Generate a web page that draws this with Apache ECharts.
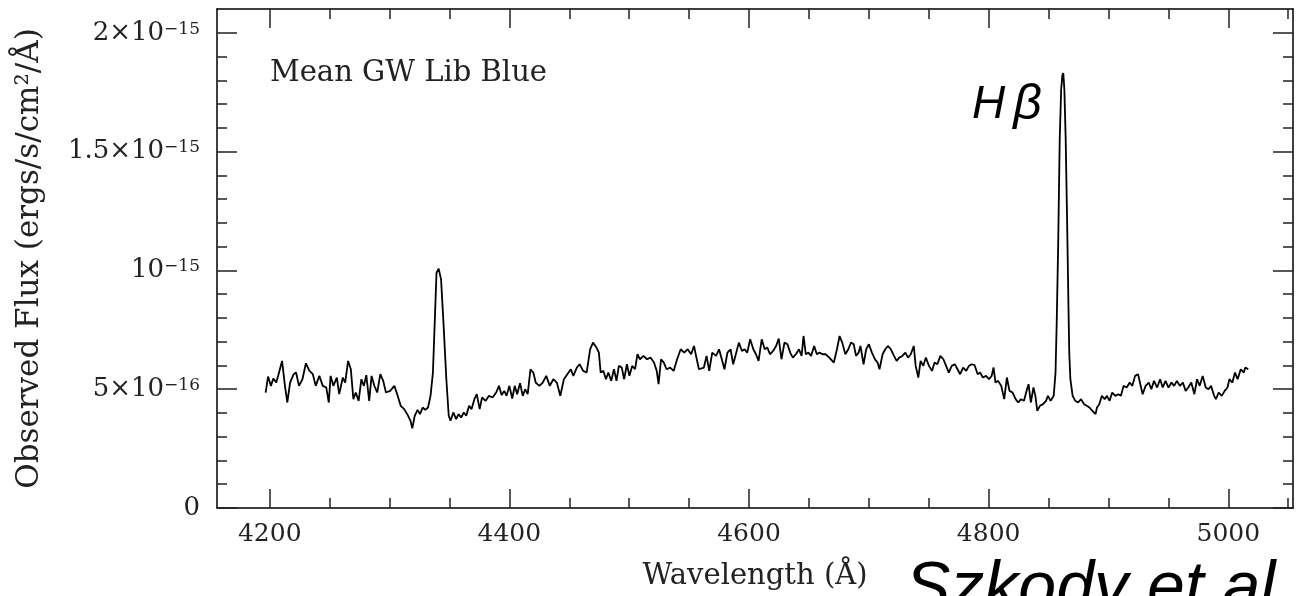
<!DOCTYPE html>
<html>
<head>
<meta charset="utf-8">
<script src="https://cdn.jsdelivr.net/npm/echarts@6/dist/echarts.min.js"></script>
<style>
  html, body { margin: 0; padding: 0; background: #fff; }
  #chart { width: 1296px; height: 596px; }
</style>
</head>
<body>
<div id="chart"></div>
<script>
// wavelength in Angstrom, flux in units of 1e-16 ergs/s/cm2/A
var wavelength = [
  4196.6, 4198.6, 4201.0, 4203.0, 4205.4, 4207.4, 4210.3, 4212.7, 4214.7, 4217.0,
  4220.0, 4222.0, 4224.4, 4227.3, 4230.2, 4233.2, 4236.0, 4238.4, 4241.4, 4244.3,
  4247.2, 4249.3, 4250.8, 4253.1, 4256.0, 4258.0, 4261.0, 4263.0, 4265.4, 4267.7,
  4269.8, 4271.8, 4274.2, 4276.5, 4278.6, 4280.6, 4283.0, 4285.0, 4287.3, 4289.7,
  4292.3, 4294.7, 4297.0, 4300.5, 4304.0, 4306.4, 4309.3, 4312.2, 4315.2, 4317.5,
  4319.0, 4321.0, 4323.4, 4325.4, 4327.7, 4329.8, 4332.1, 4334.2, 4336.2, 4337.7,
  4339.2, 4341.0, 4343.0, 4345.0, 4347.4, 4349.4, 4350.9, 4353.2, 4355.6, 4357.6,
  4359.7, 4362.0, 4364.0, 4366.4, 4368.4, 4370.8, 4372.8, 4375.2, 4377.2, 4380.2,
  4383.0, 4386.0, 4389.0, 4391.3, 4393.6, 4395.7, 4397.7, 4400.0, 4402.4, 4404.5,
  4406.5, 4408.9, 4411.2, 4413.2, 4415.3, 4417.6, 4420.0, 4422.0, 4425.0, 4427.9,
  4430.8, 4433.7, 4436.7, 4439.6, 4442.5, 4445.5, 4448.4, 4451.3, 4453.4, 4456.3,
  4458.6, 4461.6, 4464.5, 4467.4, 4469.8, 4472.7, 4474.7, 4476.2, 4478.5, 4480.6,
  4482.6, 4485.0, 4487.3, 4489.4, 4491.4, 4493.8, 4495.8, 4498.1, 4500.2, 4502.5,
  4504.9, 4506.9, 4509.0, 4511.9, 4514.9, 4517.8, 4520.7, 4523.0, 4524.5, 4526.6,
  4528.9, 4531.2, 4534.2, 4537.1, 4540.0, 4543.0, 4545.9, 4548.8, 4551.7, 4554.1,
  4555.8, 4558.2, 4562.3, 4564.6, 4566.8, 4569.3, 4572.5, 4575.0, 4577.3, 4579.5,
  4582.0, 4584.6, 4586.8, 4589.0, 4591.5, 4594.1, 4596.3, 4598.5, 4601.0, 4603.6,
  4605.8, 4608.0, 4610.6, 4613.1, 4615.3, 4617.5, 4620.1, 4622.6, 4624.8, 4627.1,
  4629.6, 4632.1, 4634.4, 4636.6, 4639.1, 4641.7, 4643.9, 4645.5, 4647.4, 4649.6,
  4651.8, 4654.4, 4656.6, 4658.8, 4661.3, 4663.9, 4667.0, 4670.8, 4673.4, 4675.6,
  4677.8, 4680.4, 4682.9, 4685.1, 4687.4, 4689.3, 4691.5, 4693.0, 4695.6, 4697.8,
  4700.0, 4702.6, 4705.1, 4707.3, 4708.9, 4711.5, 4713.7, 4715.9, 4718.4, 4721.0,
  4723.2, 4725.4, 4728.0, 4730.5, 4732.7, 4735.0, 4737.5, 4739.1, 4741.3, 4743.2,
  4745.4, 4747.6, 4750.2, 4752.7, 4754.9, 4757.2, 4759.7, 4762.2, 4764.5, 4766.7,
  4769.2, 4771.8, 4774.0, 4776.2, 4778.7, 4781.3, 4783.5, 4785.7, 4788.3, 4790.8,
  4793.0, 4795.2, 4797.8, 4800.3, 4802.5, 4804.1, 4805.7, 4807.9, 4810.5, 4813.0,
  4815.2, 4817.4, 4820.0, 4822.5, 4824.7, 4827.0, 4829.5, 4832.0, 4833.3, 4835.2,
  4837.4, 4839.0, 4840.6, 4842.8, 4845.4, 4847.9, 4849.5, 4851.7, 4854.3, 4855.8,
  4856.8, 4858.0, 4859.3, 4860.5, 4861.5, 4862.3, 4863.2, 4864.3, 4865.5, 4866.6,
  4867.3, 4868.2, 4870.1, 4872.3, 4874.6, 4877.1, 4879.6, 4881.9, 4884.1, 4886.6,
  4889.2, 4890.4, 4892.3, 4894.5, 4896.8, 4898.7, 4900.9, 4903.1, 4905.7, 4908.2,
  4910.4, 4912.6, 4915.2, 4917.7, 4919.9, 4922.2, 4924.7, 4927.2, 4928.5, 4931.0,
  4933.6, 4935.8, 4938.0, 4940.6, 4943.1, 4945.3, 4947.6, 4950.1, 4952.6, 4954.8,
  4957.1, 4959.6, 4962.1, 4964.4, 4966.6, 4969.1, 4971.7, 4973.9, 4976.1, 4978.6,
  4981.2, 4983.4, 4985.6, 4988.2, 4989.7, 4992.0, 4994.5, 4997.0, 4999.3, 5000.9,
  5003.4, 5005.6, 5007.8, 5010.4, 5012.9, 5014.2, 5016.7
];
var flux = [
  4.86, 5.53, 5.14, 5.45, 5.28, 5.63, 6.19, 5.14, 4.44, 5.28,
  5.63, 5.70, 5.14, 5.42, 6.09, 5.77, 5.63, 5.14, 5.56, 5.14,
  5.07, 4.44, 5.56, 5.14, 5.49, 4.79, 5.49, 5.28, 6.19, 5.84,
  4.58, 4.86, 4.51, 5.42, 5.14, 5.59, 4.51, 5.56, 5.14, 4.86,
  5.63, 5.35, 4.86, 4.93, 5.14, 4.79, 4.30, 4.16, 3.91, 3.67,
  3.35, 3.88, 4.13, 3.95, 4.23, 4.13, 4.23, 4.72, 5.70, 7.80,
  9.90, 10.07, 9.62, 7.80, 5.42, 3.88, 3.67, 4.02, 3.74, 3.95,
  3.81, 4.02, 3.88, 4.30, 4.16, 4.58, 4.79, 4.16, 4.65, 4.51,
  4.72, 4.65, 4.86, 5.14, 4.75, 4.93, 4.72, 5.14, 4.61, 5.14,
  4.79, 5.25, 4.72, 5.00, 4.79, 5.84, 5.70, 5.28, 5.14, 5.28,
  5.56, 5.14, 5.42, 5.28, 4.72, 5.42, 5.63, 5.84, 5.56, 5.91,
  6.05, 5.77, 5.70, 6.68, 6.96, 6.75, 6.54, 5.70, 5.77, 5.42,
  5.70, 5.35, 5.84, 5.35, 5.98, 5.91, 5.42, 6.05, 5.56, 5.98,
  5.84, 6.47, 6.26, 6.40, 6.26, 6.33, 6.12, 5.77, 5.21, 6.26,
  6.12, 5.84, 5.91, 5.77, 6.26, 6.68, 6.54, 6.68, 6.47, 6.82,
  6.40, 5.84, 5.91, 6.40, 5.77, 6.54, 6.40, 6.68, 6.26, 5.84,
  6.54, 6.68, 6.05, 6.47, 6.96, 6.61, 6.68, 6.54, 7.10, 6.68,
  6.47, 6.19, 7.10, 6.68, 6.75, 6.47, 6.61, 6.82, 7.13, 6.26,
  6.96, 6.89, 6.54, 6.33, 6.47, 6.68, 6.40, 7.24, 6.47, 6.54,
  6.40, 6.82, 6.47, 6.54, 6.47, 6.47, 6.33, 6.12, 6.68, 7.24,
  6.96, 6.47, 6.68, 6.96, 6.89, 6.40, 6.54, 6.82, 6.05, 6.68,
  6.89, 6.54, 6.26, 6.12, 5.84, 6.47, 6.68, 6.82, 6.68, 6.40,
  6.19, 6.33, 6.40, 6.54, 6.33, 6.47, 6.82, 5.98, 5.49, 6.19,
  5.98, 6.33, 5.98, 5.77, 6.12, 6.05, 6.40, 6.26, 5.98, 5.70,
  5.98, 6.05, 5.84, 5.63, 5.91, 5.77, 5.98, 6.05, 6.01, 5.63,
  5.70, 5.49, 5.56, 5.42, 5.56, 5.91, 5.28, 5.35, 5.14, 4.58,
  5.49, 4.93, 4.86, 4.58, 4.44, 4.58, 4.51, 5.00, 5.21, 4.44,
  5.07, 4.72, 4.09, 4.30, 4.37, 4.51, 4.72, 4.51, 4.72, 5.70,
  7.80, 11.0, 15.5, 17.6, 18.2, 18.3, 17.6, 15.5, 12.0, 8.5,
  6.5, 5.42, 4.72, 4.51, 4.44, 4.58, 4.37, 4.30, 4.23, 4.09,
  3.95, 4.23, 4.37, 4.72, 4.58, 4.72, 4.51, 4.86, 4.72, 4.79,
  4.72, 5.14, 5.07, 5.28, 5.14, 5.56, 5.63, 5.07, 4.79, 5.14,
  5.28, 5.00, 5.35, 5.07, 5.42, 5.07, 5.35, 5.07, 5.28, 5.14,
  5.35, 5.14, 5.28, 4.93, 5.07, 5.28, 4.79, 5.42, 5.14, 5.56,
  5.07, 5.00, 5.14, 4.72, 4.58, 4.86, 4.72, 4.93, 5.07, 5.42,
  5.28, 5.70, 5.42, 5.84, 5.70, 5.91, 5.84
];

var xMajor = [4200, 4400, 4600, 4800, 5000];
var xMinor = [4250, 4300, 4350, 4450, 4500, 4550, 4650, 4700, 4750, 4850, 4900, 4950, 5050];
var yMajor = [0, 5, 10, 15, 20];
var yMinor = [1, 2, 3, 4, 6, 7, 8, 9, 11, 12, 13, 14, 16, 17, 18, 19];
var yTickLabels = ['{b|0}', '{b|5×10}{s|−16}', '{b|10}{s|−15}', '{b|1.5×10}{s|−15}', '{b|2×10}{s|−15}'];

var serif = 'DejaVu Serif';
var inkColor = '#222';

var points = [];
for (var i = 0; i < wavelength.length; i++) {
    points.push([wavelength[i], flux[i]]);
}

var myChart = echarts.init(document.getElementById('chart'));

function xAxisDef(pos, ticks, len, labels) {
    return {
        type: 'value',
        position: pos,
        min: 4156,
        max: 5054,
        splitLine: { show: false },
        axisLine: { show: labels !== null, onZero: false, lineStyle: { color: '#000', width: 1.5 } },
        axisTick: { inside: true, length: len, customValues: ticks, lineStyle: { color: inkColor, width: 1.5 } },
        axisLabel: labels ? {
            show: true,
            customValues: ticks,
            margin: 14,
            formatter: function (v) { return String(v); },
            fontFamily: serif,
            fontSize: 25,
            color: inkColor
        } : { show: false }
    };
}

function yAxisDef(pos, ticks, len, labels) {
    return {
        type: 'value',
        position: pos,
        min: 0,
        max: 21,
        splitLine: { show: false },
        axisLine: { show: labels !== null, onZero: false, lineStyle: { color: '#000', width: 1.5 } },
        axisTick: { inside: true, length: len, customValues: ticks, lineStyle: { color: inkColor, width: 1.5 } },
        axisLabel: labels ? {
            show: true,
            customValues: ticks,
            margin: 17,
            formatter: function (v) { return yTickLabels[yMajor.indexOf(v)]; },
            rich: {
                b: { fontFamily: serif, fontSize: 26, color: inkColor, lineHeight: 30 },
                s: { fontFamily: serif, fontSize: 17, color: inkColor, padding: [0, 0, 7, 0] }
            }
        } : { show: false }
    };
}

var xBottom = xAxisDef('bottom', xMajor, 19, true);
xBottom.name = 'Wavelength (Å)';
xBottom.nameLocation = 'middle';
xBottom.nameGap = 54;
xBottom.nameTextStyle = { fontFamily: serif, fontSize: 29, color: inkColor };

var yLeft = yAxisDef('left', yMajor, 20, true);
yLeft.name = 'Observed Flux (ergs/s/cm²/Å)';
yLeft.nameLocation = 'middle';
yLeft.nameGap = 172;
yLeft.nameRotate = 90;
yLeft.nameTextStyle = { fontFamily: serif, fontSize: 31, color: inkColor };

var xTop = xAxisDef('top', xMajor, 19, false);
xTop.axisLine.show = true;
var yRight = yAxisDef('right', yMajor, 20, false);
yRight.axisLine.show = true;

option = {
    backgroundColor: '#fff',
    animation: false,
    grid: { left: 217, top: 9, width: 1076, height: 500 },
    xAxis: [
        xBottom,
        xAxisDef('bottom', xMinor, 10, null),
        xTop,
        xAxisDef('top', xMinor, 10, null)
    ],
    yAxis: [
        yLeft,
        yAxisDef('left', yMinor, 10, null),
        yRight,
        yAxisDef('right', yMinor, 10, null)
    ],
    series: [{
        type: 'line',
        xAxisIndex: 0,
        yAxisIndex: 0,
        data: points,
        symbol: 'none',
        smooth: false,
        lineStyle: { color: '#000', width: 1.8 }
    }],
    graphic: [
        {
            type: 'text',
            left: 270,
            top: 59,
            style: { text: 'Mean GW Lib Blue', fontFamily: serif, fontSize: 29, fill: inkColor }
        },
        {
            type: 'text',
            left: 972,
            top: 80,
            style: {
                text: '{h|H}{g|β}',
                rich: {
                    h: { fontFamily: 'Liberation Sans', fontStyle: 'italic', fontSize: 46, fill: '#000' },
                    g: { fontFamily: 'Liberation Sans', fontStyle: 'italic', fontSize: 50, fill: '#000', padding: [0, 0, 0, 8] }
                }
            }
        },
        {
            type: 'text',
            left: 905,
            top: 556,
            style: { text: 'Szkody et al.', fontFamily: 'Liberation Sans', fontStyle: 'italic', fontSize: 68, fill: '#000' }
        }
    ]
};

myChart.setOption(option);
</script>
</body>
</html>
